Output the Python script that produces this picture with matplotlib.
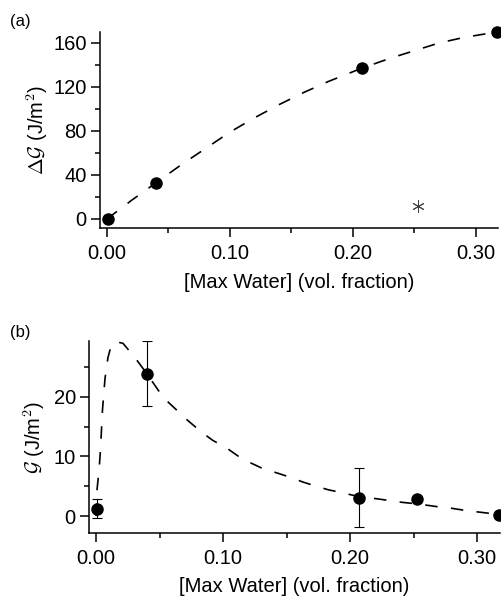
import numpy as np
import matplotlib.pyplot as plt
from matplotlib.ticker import MultipleLocator

plt.rcParams['font.family'] = ['Liberation Sans', 'DejaVu Sans']
plt.rcParams['mathtext.fontset'] = 'cm'

# ---- panel (a): delta G vs max water ----
xa = [0.001, 0.040, 0.207, 0.317]
ya = [0.0, 33.0, 137.0, 170.0]
x_star = [0.253]
y_star = [12.0]
# dashed guide curve
xa_fit = [0.0, 0.01, 0.02, 0.04, 0.06, 0.08, 0.10, 0.12, 0.14, 0.16, 0.18,
          0.207, 0.23, 0.25, 0.27, 0.29, 0.317]
ya_fit = [0.0, 8.5, 17.0, 33.0, 49.0, 64.0, 79.0, 92.0, 104.0, 115.0, 125.0,
          137.0, 146.0, 153.0, 160.0, 165.0, 170.0]

# ---- panel (b): G vs max water ----
xb = [0.001, 0.040, 0.207, 0.253, 0.317]
yb = [1.2, 23.9, 3.1, 2.8, 0.2]
eb = [1.6, 5.5, 4.9, 0.0, 0.0]
xb_fit = [0.0, 0.0008, 0.0024, 0.0035, 0.0051, 0.0071, 0.0094, 0.0118, 0.0157,
          0.0213, 0.0307, 0.0394, 0.053, 0.062, 0.072, 0.083, 0.092, 0.103,
          0.113, 0.121, 0.131, 0.143, 0.153, 0.163, 0.175, 0.183, 0.192, 0.202,
          0.213, 0.221, 0.231, 0.241, 0.25, 0.261, 0.271, 0.28, 0.289, 0.3, 0.316]
yb_fit = [0.0, 4.4, 7.7, 11.0, 17.8, 23.1, 26.6, 28.5, 29.3,
          29.0, 26.6, 24.1, 19.9, 18.1, 16.1, 14.1, 12.7, 11.4,
          9.9, 9.0, 8.0, 7.2, 6.5, 5.7, 4.9, 4.4, 4.0, 3.5,
          3.1, 2.9, 2.6, 2.3, 2.1, 1.8, 1.5, 1.3, 1.0, 0.7, 0.3]

xticks = [0.0, 0.1, 0.2, 0.3]
xtick_labels = ['0.00', '0.10', '0.20', '0.30']
xlabel = '[Max Water] (vol. fraction)'

fig = plt.figure(figsize=(5.02, 5.96), dpi=100)
ax1 = fig.add_axes([100 / 502, 1 - 228 / 596, 398 / 502, 196 / 596])
ax2 = fig.add_axes([89 / 502, 1 - 533 / 596, 411 / 502, 192 / 596])

dash = (0, (7.5, 8))

def style(ax):
    for s in ['top', 'right']:
        ax.spines[s].set_visible(False)
    for s in ['left', 'bottom']:
        ax.spines[s].set_linewidth(1.1)
    ax.tick_params(which='major', direction='out', length=6.5, width=1.1,
                   labelsize=14.5)
    ax.tick_params(which='minor', direction='out', length=3.8, width=1.1)
    ax.tick_params(axis='x', which='major', pad=5)
    ax.tick_params(axis='y', which='major', pad=3)
    ax.set_xticks(xticks)
    ax.set_xticklabels(xtick_labels)
    ax.xaxis.set_minor_locator(MultipleLocator(0.05))

# panel (a)
ax1.plot(xa_fit, ya_fit, color='black', lw=1.2, ls=dash)
ax1.plot(xa, ya, 'o', color='black', ms=8, clip_on=False, zorder=3)
ax1.plot(x_star, y_star, marker=(6, 2, 0), ls='none', color='#444444',
         ms=9, mew=0.7)
ax1.set_xlim(-0.0057, 0.318)
ax1.set_ylim(-8.2, 170)
style(ax1)
ax1.yaxis.set_major_locator(MultipleLocator(40))
ax1.yaxis.set_minor_locator(MultipleLocator(20))
ax1.set_ylabel(r'$\Delta\mathcal{G}$ (J/m$^\mathsf{2}$)', fontsize=14.5)
ax1.yaxis.set_label_coords(-0.125, 0.5)
ax1.set_xlabel(xlabel, fontsize=14.5)
ax1.xaxis.set_label_coords(0.5, -0.23)
fig.text(10 / 502, 1 - 14 / 596, '(a)', fontsize=12, va='top', ha='left')

# panel (b)
ax2.plot(xb_fit, yb_fit, color='black', lw=1.2, ls=dash)
ax2.errorbar(xb[:3], yb[:3], yerr=eb[:3], fmt='o', color='black', ms=8,
             elinewidth=0.8, capsize=3.5, capthick=0.8, zorder=3)
ax2.plot(xb[3:], yb[3:], 'o', color='black', ms=8, clip_on=False, zorder=3)
ax2.set_xlim(-0.0055, 0.318)
ax2.set_ylim(-2.85, 29.4)
style(ax2)
ax2.yaxis.set_major_locator(MultipleLocator(10))
ax2.yaxis.set_minor_locator(MultipleLocator(5))
ax2.set_ylabel(r'$\mathcal{G}$ (J/m$^\mathsf{2}$)', fontsize=14.5)
ax2.yaxis.set_label_coords(-0.102, 0.5)
ax2.set_xlabel(xlabel, fontsize=14.5)
ax2.xaxis.set_label_coords(0.5, -0.23)
fig.text(10 / 502, 1 - 325 / 596, '(b)', fontsize=12, va='top', ha='left')

fig.savefig('out.png', dpi=100)
